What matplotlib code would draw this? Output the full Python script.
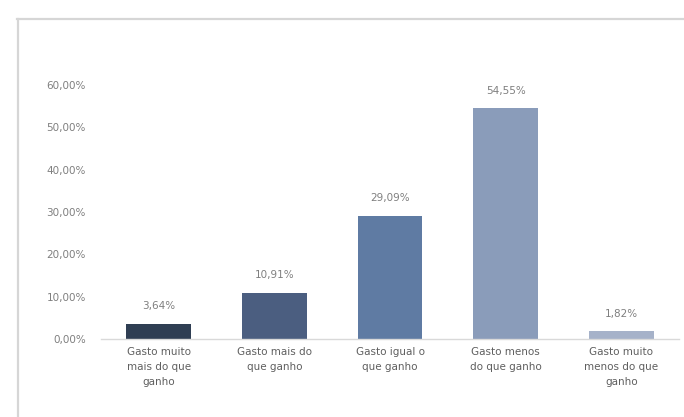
import matplotlib.pyplot as plt
from matplotlib.lines import Line2D

# dados
categorias = ['Gasto muito\nmais do que\nganho', 'Gasto mais do\nque ganho',
              'Gasto igual o\nque ganho', 'Gasto menos\ndo que ganho',
              'Gasto muito\nmenos do que\nganho']
valores = [3.64, 10.91, 29.09, 54.55, 1.82]
cores = ['#2f3e53', '#4b5e80', '#5f7ba3', '#8a9cba', '#a6b2c9']
y_ticks = [0, 10, 20, 30, 40, 50, 60]

def pct(v):
    return f"{v:.2f}".replace('.', ',') + '%'

fig = plt.figure(figsize=(6.84, 4.17), dpi=100)
ax = fig.add_axes([0.1477, 0.187, 0.845, 0.609])

x = range(len(valores))
barras = ax.bar(x, valores, width=0.56, color=cores)

# rótulos de dados
for b, v in zip(barras, valores):
    ax.annotate(pct(v), (b.get_x() + b.get_width() / 2, v),
                xytext=(0, 9), textcoords='offset points',
                ha='center', va='bottom', fontsize=7.5, color='#7f7f7f')

ax.set_xlim(-0.5, 4.5)
ax.set_ylim(0, 60)
ax.set_yticks(y_ticks)
ax.set_yticklabels([pct(t) for t in y_ticks])
ax.set_xticks(list(x))
ax.set_xticklabels(categorias, linespacing=1.6)

ax.tick_params(axis='y', length=0, pad=11, labelsize=7.5, labelcolor='#7f7f7f')
ax.tick_params(axis='x', length=0, pad=6, labelsize=7.5, labelcolor='#5f5f5f')

for s in ['top', 'right', 'left']:
    ax.spines[s].set_visible(False)
ax.spines['bottom'].set_color('#d9d9d9')
ax.spines['bottom'].set_linewidth(1)

# moldura do gráfico
fig.add_artist(Line2D([0.025, 1.0], [0.955, 0.955], color='#d6d6d6', lw=1.6))
fig.add_artist(Line2D([0.026, 0.026], [0.0, 0.955], color='#d6d6d6', lw=1.6))

fig.savefig('out.png', dpi=100)
